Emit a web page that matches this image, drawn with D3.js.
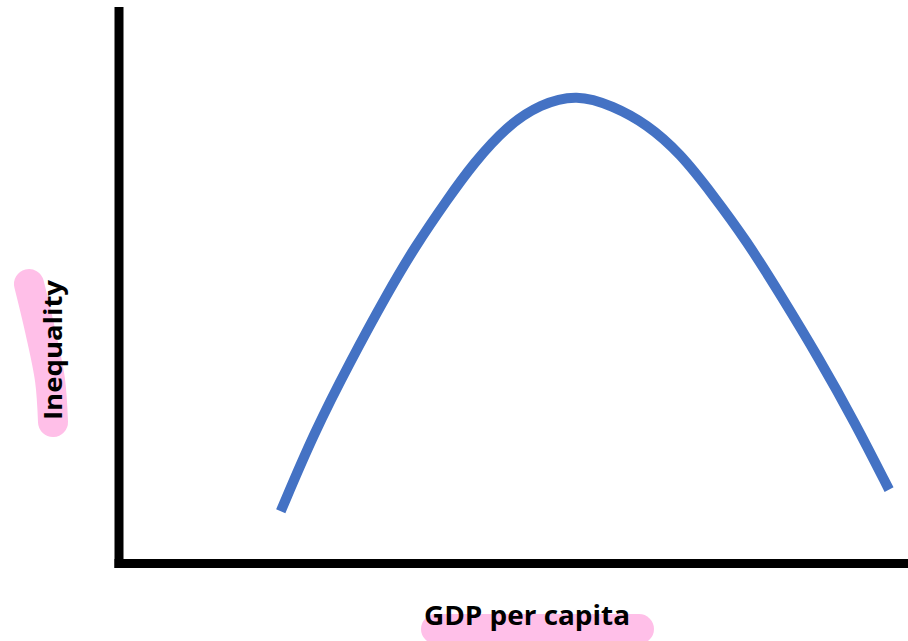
<!DOCTYPE html>
<html>
<head>
<meta charset="utf-8">
<script src="https://cdn.jsdelivr.net/npm/d3@7"></script>
<style>
  html, body { margin: 0; padding: 0; background: #fff; }
  svg { display: block; }
</style>
</head>
<body>
<svg id="chart" width="908" height="641"></svg>
<script>
// Data (abstract units: GDP per capita vs Inequality, Kuznets curve)
const gdp        = [2.05, 2.47, 2.94, 3.40, 3.75, 4.16, 4.49, 4.92, 5.34, 5.80, 6.26, 6.69, 7.11, 7.53, 7.95, 8.40, 8.86, 9.33, 9.76];
const inequality = [0.94, 2.35, 3.66, 4.86, 5.70, 6.55, 7.20, 7.88, 8.27, 8.45, 8.24, 7.91, 7.39, 6.63, 5.82, 4.80, 3.72, 2.53, 1.33];
const xLabel = "GDP per capita";
const yLabel = "Inequality";

const svg = d3.select("#chart");
const x = d3.scaleLinear().domain([0, 10]).range([119, 908]);
const y = d3.scaleLinear().domain([0, 10]).range([563.5, 8]);

// Pink highlighter strokes behind labels
const hl = "#ffbfe8";
svg.append("path")
  .attr("d", d3.line().curve(d3.curveCatmullRom)([[29, 284], [40, 330], [50, 380], [53, 422]]))
  .attr("fill", "none").attr("stroke", hl).attr("stroke-width", 30).attr("stroke-linecap", "round");
svg.append("path")
  .attr("d", d3.line()([[436, 629], [639, 629]]))
  .attr("fill", "none").attr("stroke", hl).attr("stroke-width", 30).attr("stroke-linecap", "round");

// Axes (thick black lines, no ticks)
const yAxis = d3.axisLeft(y).tickValues([]).tickSizeOuter(0);
const xAxis = d3.axisBottom(x).tickValues([]).tickSizeOuter(0);
const gy = svg.append("g").attr("transform", `translate(${x(0)},0)`).call(yAxis);
gy.select(".domain").attr("stroke", "#000").attr("stroke-width", 9)
  .attr("d", `M0,${y(10) - 1}V${y(0) + 4.5}`);
const gx = svg.append("g").attr("transform", `translate(0,${y(0)})`).call(xAxis);
gx.select(".domain").attr("stroke", "#000").attr("stroke-width", 9)
  .attr("d", `M${x(0) - 4.5},0H${x(10)}`);

// Curve
const pts = gdp.map((g, i) => [g, inequality[i]]);
svg.append("path")
  .datum(pts)
  .attr("d", d3.line().x(d => x(d[0])).y(d => y(d[1])).curve(d3.curveBasis))
  .attr("fill", "none")
  .attr("stroke", "#4472c4")
  .attr("stroke-width", 10)
  .attr("stroke-linecap", "butt");

// Labels
svg.append("text")
  .attr("x", 424).attr("y", 625)
  .attr("font-family", "'Open Sans', sans-serif")
  .attr("font-weight", "bold")
  .attr("font-size", 26)
  .attr("fill", "#000")
  .attr("textLength", 206).attr("lengthAdjust", "spacingAndGlyphs")
  .text(xLabel);

svg.append("text")
  .attr("transform", "translate(62,350) rotate(-90)")
  .attr("text-anchor", "middle")
  .attr("font-family", "'Open Sans', sans-serif")
  .attr("font-weight", "bold")
  .attr("font-size", 25)
  .attr("fill", "#000")
  .attr("textLength", 140).attr("lengthAdjust", "spacingAndGlyphs")
  .text(yLabel);
</script>
</body>
</html>
